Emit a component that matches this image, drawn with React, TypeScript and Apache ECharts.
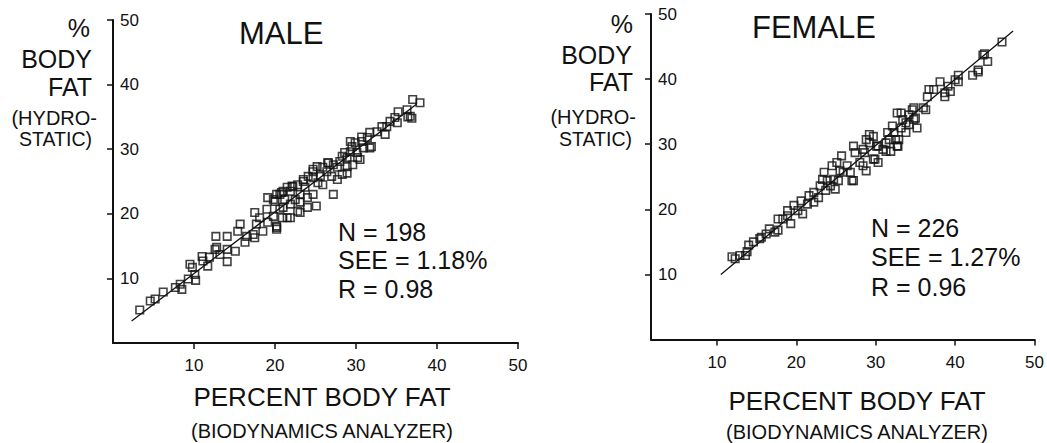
import React, { useEffect, useRef } from "react";
import * as echarts from "echarts";

const tickValues = [10, 20, 30, 40, 50];

const malePoints: number[][] = [
  [3.3, 5.1], [4.6, 6.5], [5.2, 6.8], [6.2, 7.9], [7.7, 8.6], [8.3, 9.1], [8.5, 8.3], [9.3, 9.9],
  [9.8, 11.7], [9.5, 12.2], [10.1, 10.6], [10.2, 9.7], [11.0, 13.4], [11.1, 12.7], [11.7, 11.9],
  [11.9, 13.3], [12.6, 14.5], [12.7, 16.5], [12.8, 14.8], [13.2, 13.7], [14.1, 16.5], [14.1, 14.5],
  [14.1, 12.6], [15.1, 14.2], [15.4, 17.3], [15.7, 18.4], [16.3, 15.6], [16.5, 16.5], [17.3, 16.8],
  [17.5, 20.2], [17.7, 18.4], [18.1, 19.4], [18.5, 17.3], [19.0, 20.7], [19.1, 18.7], [19.8, 22.2],
  [19.8, 19.6], [20.2, 17.9], [20.6, 23.0], [21.0, 21.0], [21.5, 24.1], [21.5, 19.4],
  [37.0, 37.7], [37.9, 37.2], [36.3, 36.1], [36.4, 35.0], [35.2, 35.8], [34.8, 34.9], [34.2, 34.3],
  [35.1, 34.1], [33.8, 33.5], [33.2, 33.5], [33.6, 32.3], [32.6, 32.7], [31.7, 32.6], [31.4, 31.8],
  [30.7, 31.9], [30.7, 31.2], [31.7, 30.2], [30.9, 30.2], [29.9, 31.0], [29.5, 30.4], [29.3, 29.6],
  [30.1, 29.5], [30.2, 28.7], [29.6, 27.6], [28.6, 29.5], [28.3, 28.9], [28.0, 28.1], [28.9, 27.3],
  [27.7, 27.2], [27.2, 27.6], [26.5, 27.9], [26.4, 26.5], [27.0, 25.8], [25.9, 27.2], [25.2, 27.3],
  [25.6, 25.8], [24.7, 26.5], [24.7, 25.6], [24.1, 25.8], [25.3, 24.8], [23.5, 25.0], [23.7, 24.1],
  [22.8, 24.5], [22.2, 24.2], [23.1, 23.0], [21.9, 23.5], [21.0, 23.5], [21.2, 22.2], [20.2, 23.0],
  [20.0, 21.9], [21.9, 21.5], [20.6, 20.7], [22.5, 22.2], [23.1, 21.8], [24.0, 22.5], [24.7, 23.0],
  [25.9, 24.5], [27.7, 25.3], [29.3, 31.2], [28.3, 26.1], [28.9, 28.7], [20.9, 19.4], [21.9, 19.4],
  [22.8, 20.4], [24.0, 21.0], [20.2, 18.1], [17.5, 16.3], [20.2, 17.6], [23.1, 20.2], [25.1, 21.2],
  [27.2, 23.0], [28.9, 26.3], [30.5, 28.4], [31.9, 30.4], [36.7, 35.1], [36.9, 34.8], [19.1, 22.5],
  [20.8, 23.3], [22.1, 24.3], [23.5, 25.3], [24.7, 26.9], [26.6, 27.9],
];

const femalePoints: number[][] = [
  [11.9, 12.7], [12.3, 12.4], [12.9, 12.9], [13.6, 12.9], [13.8, 13.5], [14.0, 14.5], [14.6, 15.0],
  [15.4, 15.5], [15.6, 15.7], [16.2, 16.2], [16.6, 17.0], [17.3, 16.5], [17.7, 16.8], [17.7, 18.5],
  [18.3, 18.5], [18.9, 19.0], [19.3, 17.8], [18.9, 19.8], [19.7, 20.6], [20.2, 19.8], [20.6, 21.3],
  [20.8, 19.3], [21.4, 20.8], [21.6, 22.1], [22.2, 22.6], [22.2, 21.1], [22.8, 21.8], [23.0, 23.6],
  [23.3, 24.6], [23.5, 25.7], [23.7, 22.9], [24.3, 23.6], [24.7, 24.6], [24.9, 23.1], [24.5, 26.7],
  [25.1, 27.2], [25.5, 25.9], [25.7, 28.2], [26.4, 26.7], [26.8, 25.7], [27.0, 24.4], [27.4, 28.7],
  [28.0, 27.2], [28.4, 29.2], [28.8, 25.9], [29.2, 30.2], [29.7, 27.7], [25.3, 24.4], [23.9, 24.4],
  [28.8, 30.7], [29.7, 31.2], [30.3, 29.7], [30.3, 27.2], [30.9, 29.2], [31.3, 30.2], [31.5, 31.8],
  [31.9, 28.9], [32.5, 30.7], [32.8, 29.7], [32.1, 32.8], [33.2, 32.5], [33.4, 33.8], [33.8, 31.8],
  [32.7, 34.8], [34.2, 34.5], [34.6, 35.3], [34.8, 33.8], [35.2, 32.5], [34.2, 33.0], [36.3, 35.3],
  [36.5, 37.3], [36.7, 38.4], [37.3, 38.4], [38.1, 39.6], [38.7, 37.9], [39.1, 38.9], [40.0, 39.9],
  [40.4, 40.6], [42.2, 40.6], [42.9, 41.4], [43.5, 43.7], [43.7, 43.9], [44.1, 42.7], [45.9, 45.7],
  [42.9, 41.1], [40.4, 39.6], [39.4, 38.1], [38.7, 37.3], [36.0, 35.6], [34.8, 35.6], [33.2, 34.8],
  [35.0, 34.0], [33.8, 33.3], [32.3, 31.8], [32.9, 30.7], [31.7, 30.7], [32.7, 29.7], [31.3, 28.9],
  [30.1, 29.7], [29.2, 31.5], [29.9, 27.7], [28.6, 28.7], [25.9, 25.7], [27.2, 24.4], [28.4, 26.7],
  [27.2, 29.7],
];

const maleFit: number[][] = [[2.3, 3.4], [37.5, 37.0]];
const femaleFit: number[][] = [[10.5, 10.0], [47.3, 47.4]];

const maleStats = ["N = 198", "SEE = 1.18%", "R = 0.98"];
const femaleStats = ["N = 226", "SEE = 1.27%", "R = 0.96"];
const panelTitles = ["MALE", "FEMALE"];
const yTitleLines = ["%", "BODY", "FAT", "(HYDRO-", "STATIC)"];
const xTitle = "PERCENT BODY FAT";
const xSubtitle = "(BIODYNAMICS ANALYZER)";

const FONT = '"Liberation Sans", Arial, Helvetica, sans-serif';
const INK = "#111111";

function txt(text: string, x: number, y: number, size: number, align: string) {
  return {
    type: "text",
    x,
    y,
    silent: true,
    style: {
      text,
      fontSize: size,
      fontFamily: FONT,
      fill: INK,
      align,
      textAlign: align,
      verticalAlign: "middle",
      textVerticalAlign: "middle",
    },
  };
}

function axisX(gridIndex: number, min: number) {
  return {
    type: "value",
    gridIndex,
    min,
    max: 50,
    axisLine: { show: true, onZero: false, lineStyle: { color: "#111", width: 2 } },
    axisTick: { show: true, customValues: tickValues, length: 6, inside: false, lineStyle: { color: "#111", width: 1.5 } },
    axisLabel: { show: true, customValues: tickValues, fontSize: 17, fontFamily: FONT, color: INK, margin: 14 },
    splitLine: { show: false },
  };
}

function axisY(gridIndex: number) {
  return {
    type: "value",
    gridIndex,
    min: 0,
    max: 50,
    axisLine: { show: true, onZero: false, lineStyle: { color: "#111", width: 2 } },
    axisTick: { show: true, customValues: tickValues, length: 6, inside: false, lineStyle: { color: "#111", width: 1.5 } },
    axisLabel: { show: true, inside: true, customValues: tickValues, fontSize: 17, fontFamily: FONT, color: INK, margin: 7 },
    splitLine: { show: false },
  };
}

function scatter(data: number[][], idx: number) {
  return {
    type: "scatter",
    xAxisIndex: idx,
    yAxisIndex: idx,
    data,
    symbol: "rect",
    symbolSize: 7.5,
    z: 3,
    itemStyle: { color: "rgba(255,255,255,0)", borderColor: "#111", borderWidth: 1.6 },
  };
}

function fit(data: number[][], idx: number) {
  return {
    type: "line",
    xAxisIndex: idx,
    yAxisIndex: idx,
    data,
    symbol: "none",
    z: 2,
    lineStyle: { color: "#111", width: 1.3 },
  };
}

export default function App() {
  const ref = useRef<HTMLDivElement>(null);
  useEffect(() => {
    if (!ref.current) return;
    const chart = echarts.init(ref.current, null, { renderer: "svg" });
    const graphics: any[] = [];
    graphics.push(txt(panelTitles[0], 239, 33, 31, "left"));
    graphics.push(txt(panelTitles[1], 752, 27, 31, "left"));
    const maleY = [
      [90, 27.5, 25], [92, 58.5, 25], [92, 86.5, 25], [97, 118, 20], [92, 138.5, 19.5],
    ];
    const femaleY = [
      [633, 24, 25], [632, 55, 25], [633, 82, 25], [636, 117, 20], [632, 139, 19.5],
    ];
    yTitleLines.forEach((t, i) => {
      graphics.push(txt(t, maleY[i][0], maleY[i][1], maleY[i][2], "right"));
      graphics.push(txt(t, femaleY[i][0], femaleY[i][1], femaleY[i][2], "right"));
    });
    const maleStatY = [231.5, 260, 289];
    const femaleStatY = [227.5, 257, 287];
    maleStats.forEach((t, i) => graphics.push(txt(t, 338, maleStatY[i], 25, "left")));
    femaleStats.forEach((t, i) => graphics.push(txt(t, 871, femaleStatY[i], 25, "left")));
    graphics.push(txt(xTitle, 322, 397, 26, "center"));
    graphics.push(txt(xSubtitle, 322, 431, 20, "center"));
    graphics.push(txt(xTitle, 857, 401, 26, "center"));
    graphics.push(txt(xSubtitle, 857, 432, 20, "center"));

    chart.setOption({
      animation: false,
      backgroundColor: "#ffffff",
      grid: [
        { left: 113, top: 20, width: 405, height: 323 },
        { left: 651, top: 14, width: 390, height: 325.5 },
      ],
      xAxis: [axisX(0, 0), axisX(1, 1.7)],
      yAxis: [axisY(0), axisY(1)],
      series: [fit(maleFit, 0), scatter(malePoints, 0), fit(femaleFit, 1), scatter(femalePoints, 1)],
      graphic: { elements: graphics },
    });
    return () => chart.dispose();
  }, []);
  return (
    <div
      ref={ref}
      style={{ position: "fixed", left: 0, top: 0, width: 1047, height: 443, background: "#fff" }}
    />
  );
}
